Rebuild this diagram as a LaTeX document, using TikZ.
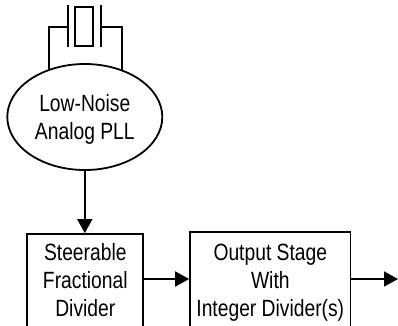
\documentclass[tikz,border=0pt]{standalone}
\usepackage{fontspec}
\setmainfont{Liberation Sans}[FakeStretch=0.82]
\usetikzlibrary{arrows.meta,shapes.geometric}
\begin{document}
\begin{tikzpicture}[x=1pt,y=-1pt, line width=1.8pt,
  lbl/.style={font=\fontsize{23.5}{28}\selectfont, align=center},
  blk/.style={draw, rectangle, inner sep=0pt, lbl},
  arr/.style={-{Triangle[length=14pt,width=15pt]}},
]
\useasboundingbox (0,0) rectangle (398,325);
\clip (0,0) rectangle (398,325);
% crystal
\node[draw, rectangle, minimum width=18pt, minimum height=38.4pt, inner sep=0pt] (xtal) at (84.3,26.5) {};
\coordinate (pla) at (67.7,5);
\coordinate (plb) at (67.7,46.7);
\coordinate (pra) at (101,5);
\coordinate (prb) at (101,46.7);
\draw (pla) -- (plb);
\draw (pra) -- (prb);
% PLL
\node[ellipse, draw, minimum width=155pt, minimum height=106pt, inner sep=0pt, lbl] (pll) at (84.8,117)
  {\rule{0pt}{22.8pt}Low-Noise\\Analog PLL};
\coordinate (ll) at (67.7,26.7);
\coordinate (rl) at (101,26.7);
\draw (ll) -| (pll.127.3);
\draw (rl) -| (pll.52.7);
% blocks
\node[blk, minimum width=116pt, minimum height=97pt] (b1) at (85.3,282.5)
  {\strut Steerable\\\strut Fractional\\\strut Divider};
\node[blk, minimum width=160.5pt, minimum height=101.6pt] (b2) at (270.3,282.5)
  {\strut Output Stage\\\strut With\\\strut Integer Divider(s)};
\coordinate (out) at (398,279);
% connectors
\draw[arr] (pll.south) -- (pll.south |- b1.north);
\draw[arr] ([yshift=3.5pt]b1.east) -- ([yshift=3.5pt]b1.east -| b2.west);
\draw[arr] ([yshift=3.5pt]b2.east) -- (out);
\end{tikzpicture}
\end{document}
